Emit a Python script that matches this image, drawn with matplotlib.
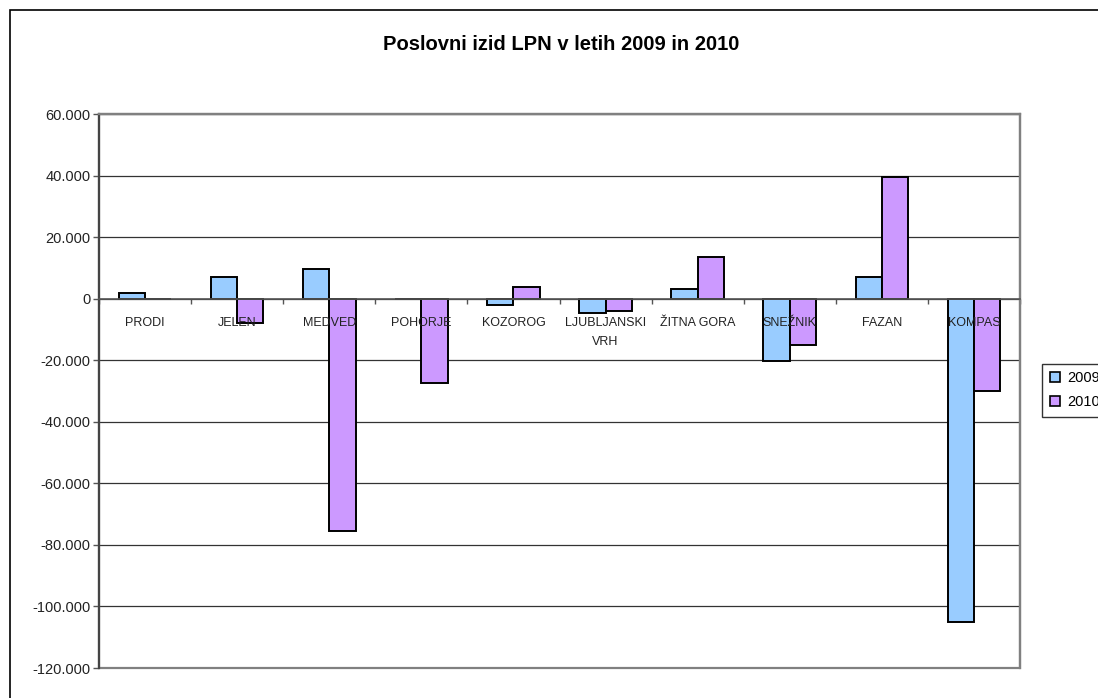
import numpy as np
import matplotlib.pyplot as plt
from matplotlib.patches import Rectangle
from matplotlib.lines import Line2D

plt.rcParams['font.family'] = ['Liberation Sans', 'DejaVu Sans']

categories = ['PRODI', 'JELEN', 'MEDVED', 'POHORJE', 'KOZOROG',
              'LJUBLJANSKI VRH', 'ŽITNA GORA', 'SNEŽNIK', 'FAZAN', 'KOMPAS']
values_2009 = [2000, 7200, 9800, 0, -2000, -4500, 3300, -20200, 7200, -105000]
values_2010 = [0, -7800, -75500, -27300, 3900, -3900, 13500, -15000, 39600, -30000]
series_labels = ['2009', '2010']
y_ticks = [60000, 40000, 20000, 0, -20000, -40000, -60000, -80000, -100000, -120000]

col_2009 = '#99CCFF'
col_2010 = '#CC99FF'

W, H = 1098, 698
fig = plt.figure(figsize=(W / 100, H / 100), dpi=100)
ax = fig.add_axes([99 / W, 1 - 668 / H, (1020 - 99) / W, (668 - 114) / H])

x = np.arange(len(categories))
bw = 1 / 3.5
ax.bar(x - bw / 2, values_2009, bw, color=col_2009, edgecolor='black', linewidth=1.4, zorder=2)
ax.bar(x + bw / 2, values_2010, bw, color=col_2010, edgecolor='black', linewidth=1.4, zorder=2)

ax.set_xlim(-0.5, len(categories) - 0.5)
ax.set_ylim(-120000, 60000)
ax.set_yticks(y_ticks)
ax.set_yticklabels(['0' if v == 0 else f'{v:,}'.replace(',', '.') for v in y_ticks],
                   fontsize=10.5, color='#222222')
ax.tick_params(axis='y', direction='out', length=4, width=1, color='#555555', pad=2)
ax.yaxis.grid(True, color='#333333', linewidth=0.9)
ax.set_axisbelow(True)

# category axis crosses at zero
ax.spines['bottom'].set_position(('data', 0))
ax.spines['bottom'].set_color('#555555')
ax.spines['bottom'].set_linewidth(1.2)
ax.set_xticks([])
ax.set_xticks(np.arange(len(categories) + 1) - 0.5, minor=True)
ax.tick_params(axis='x', which='minor', direction='out', length=3.5, width=1, color='#555555')
ax.spines['left'].set_color('#444444')
ax.spines['left'].set_linewidth(1.6)
for s in ['top', 'right']:
    ax.spines[s].set_color('#808080')
    ax.spines[s].set_linewidth(1.6)
ax.add_patch(Rectangle((0, 0), 1, 1, transform=ax.transAxes, fill=False,
                       edgecolor='#808080', linewidth=1.6, zorder=2.4, clip_on=False))

for i, name in enumerate(categories):
    label = name.replace(' ', '\n') if name == 'LJUBLJANSKI VRH' else name
    ax.annotate(label, xy=(i, 0), xytext=(0, -18), textcoords='offset pixels',
                ha='center', va='top', fontsize=9, color='#222222',
                linespacing=1.85, zorder=5)

fig.text(561 / W, 1 - 44 / H, 'Poslovni izid LPN v letih 2009 in 2010',
         ha='center', va='center', fontsize=14.5, fontweight='bold')

handles = [Line2D([], [], marker='s', linestyle='none', markersize=6.5,
                  markerfacecolor=c, markeredgecolor='black', markeredgewidth=1.2)
           for c in (col_2009, col_2010)]
leg = fig.legend(handles, series_labels, loc='upper left',
                 bbox_to_anchor=(1042 / W, 1 - 364 / H), borderaxespad=0,
                 fontsize=10.5, frameon=True, fancybox=False, handlelength=0.8,
                 handletextpad=0.4, labelspacing=0.7, borderpad=0.5)
leg.get_frame().set_edgecolor('black')
leg.get_frame().set_linewidth(1)

fig.patches.append(Rectangle((10 / W, -0.1), 1.2, 1 - 10 / H + 0.1,
                             transform=fig.transFigure, fill=False,
                             edgecolor='black', linewidth=1.2))

fig.savefig('out.png', dpi=100)
